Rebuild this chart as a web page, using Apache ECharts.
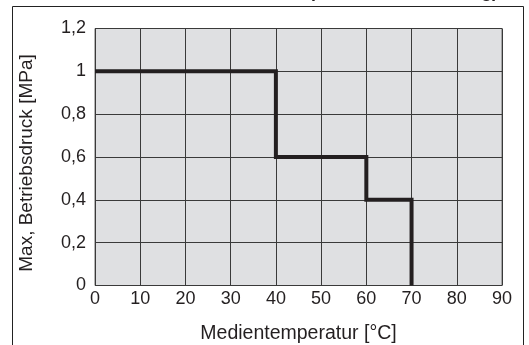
<!DOCTYPE html>
<html>
<head>
<meta charset="utf-8">
<script src="https://cdn.jsdelivr.net/npm/echarts@6/dist/echarts.min.js"></script>
<style>html,body{margin:0;padding:0;background:#fff;}#c{width:529px;height:345px;}</style>
</head>
<body>
<div id="c"></div>
<script>
// Data
const titleText = '(Standardausführung)';
const xName = 'Medientemperatur [°C]';
const yName = 'Max, Betriebsdruck [MPa]';
const tempPoints = [0, 40, 40, 60, 60, 70, 70];
const pressurePoints = [1, 1, 0.6, 0.6, 0.4, 0.4, 0];
const xTicks = [0, 10, 20, 30, 40, 50, 60, 70, 80, 90];
const yTicks = [0, 0.2, 0.4, 0.6, 0.8, 1, 1.2];

const chart = echarts.init(document.getElementById('c'), null, {renderer: 'canvas'});
const font = 'Liberation Sans, Arial, Helvetica, sans-serif';
chart.setOption({
  animation: false,
  textStyle: {fontFamily: font},
  grid: {left: 95, right: 27, top: 28.5, bottom: 59.5, containLabel: false, outerBoundsMode: 'none',
         show: true, backgroundColor: '#dfe0e2', borderColor: '#6a6a6a', borderWidth: 1},
  graphic: [
    {type: 'rect', shape: {x: 12.5, y: 6.5, width: 511, height: 400}, silent: true,
     style: {fill: 'none', stroke: '#222', lineWidth: 1}, z: 0},
    {type: 'text', x: 498, y: -8, silent: true,
     style: {text: titleText, fontFamily: font, fontWeight: 'bold', fontSize: 18,
             fill: '#231f20', align: 'right', verticalAlign: 'middle'}}
  ],
  xAxis: {
    type: 'value', min: xTicks[0], max: xTicks[xTicks.length - 1], interval: 10,
    name: xName, nameLocation: 'middle', nameGap: 38,
    nameTextStyle: {fontSize: 19.5, color: '#231f20', fontFamily: font},
    axisLine: {show: false}, axisTick: {show: false},
    axisLabel: {fontSize: 18, color: '#231f20', margin: 5, fontFamily: font},
    splitLine: {show: true, lineStyle: {color: '#3a3a3a', width: 1}}
  },
  yAxis: {
    type: 'value', min: yTicks[0], max: yTicks[yTicks.length - 1], interval: 0.2,
    name: yName, nameLocation: 'middle', nameGap: 59,
    nameTextStyle: {fontSize: 19, color: '#231f20', fontFamily: font, padding: [0, 0, 0, -12]},
    axisLine: {show: false}, axisTick: {show: false},
    axisLabel: {fontSize: 18, color: '#231f20', margin: 9, fontFamily: font,
                formatter: v => String(Math.round(v * 10) / 10).replace('.', ',')},
    splitLine: {show: true, lineStyle: {color: '#3a3a3a', width: 1}}
  },
  series: [{
    type: 'line', symbol: 'none', silent: true,
    data: tempPoints.map((t, i) => [t, pressurePoints[i]]),
    lineStyle: {color: '#231f20', width: 4, join: 'miter', cap: 'butt'}
  }]
});
</script>
</body>
</html>
